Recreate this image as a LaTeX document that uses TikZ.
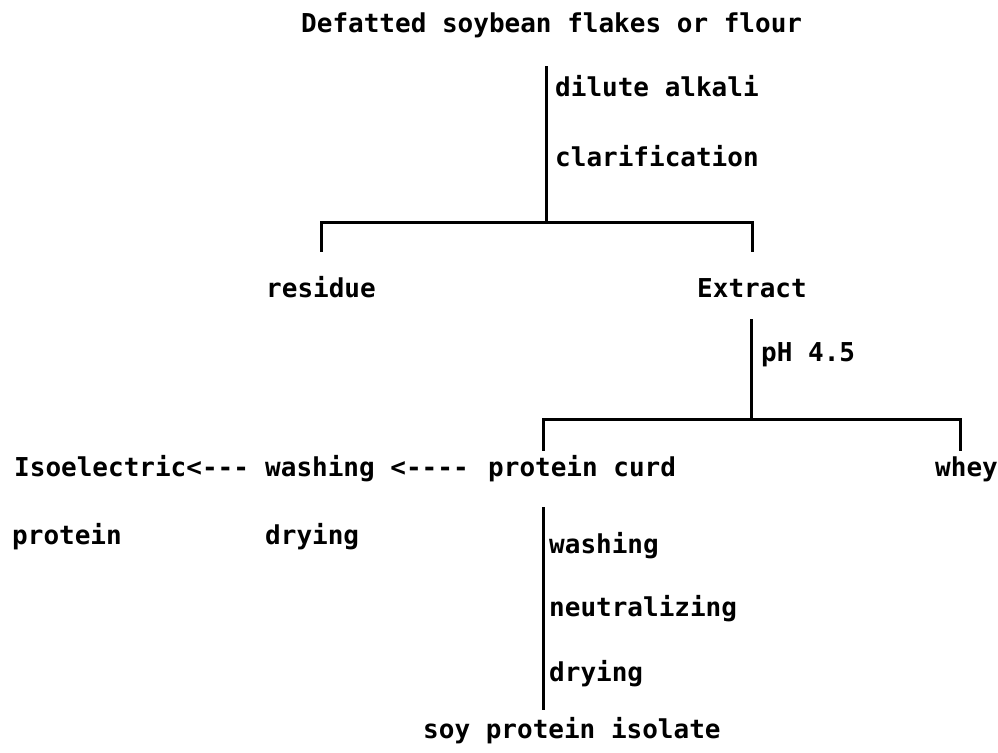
\documentclass[tikz,border=0pt]{standalone}
\usepackage{fontspec}
\setmonofont{DejaVu Sans Mono}
\begin{document}
\begin{tikzpicture}[x=1pt,y=1pt,
  lbl/.style={anchor=base west,inner sep=0pt,font=\ttfamily\bfseries\fontsize{26}{30}\selectfont},
  ln/.style={line width=3pt,line cap=rect}]
\useasboundingbox (0,0) rectangle (998,-752);
% texts
\node[lbl] (title) at (301,-33) {Defatted soybean flakes or flour};
\node[lbl] (dil) at (555,-96) {dilute alkali};
\node[lbl] (cla) at (555,-166) {clarification};
\node[lbl] (res) at (266,-297) {residue};
\node[lbl] (ext) at (697,-297) {Extract};
\node[lbl] (ph) at (761,-361) {pH 4.5};
\node[lbl] (iso) at (14,-476) {Isoelectric<---};
\node[lbl] (wash1) at (265,-476) {washing <----};
\node[lbl] (curd) at (488,-476) {protein curd};
\node[lbl] (whey) at (935,-476) {whey};
\node[lbl] (prot) at (12,-544) {protein};
\node[lbl] (dry1) at (265,-544) {drying};
\node[lbl] (wash2) at (549,-553) {washing};
\node[lbl] (neu) at (549,-616) {neutralizing};
\node[lbl] (dry2) at (549,-681) {drying};
\node[lbl] (spi) at (423,-738) {soy protein isolate};
% junction coordinates
\coordinate (a1) at (546,-68);
\coordinate (j1) at (546,-222);
\coordinate (l1) at (321,-222);
\coordinate (r1) at (752,-222);
\coordinate (l1e) at (321,-250);
\coordinate (r1e) at (752,-250);
\coordinate (a2) at (751,-320);
\coordinate (j2) at (751,-419);
\coordinate (l2) at (543,-419);
\coordinate (r2) at (960,-419);
\coordinate (l2e) at (543,-449);
\coordinate (r2e) at (960,-449);
\coordinate (a3) at (543,-508);
\coordinate (b3) at (543,-708);
% connectors
\draw[ln] (a1) -- (j1);
\draw[ln] (l1e) -- (l1) -- (r1) -- (r1e);
\draw[ln] (a2) -- (j2);
\draw[ln] (l2e) -- (l2) -- (r2) -- (r2e);
\draw[ln] (a3) -- (b3);
\end{tikzpicture}
\end{document}
